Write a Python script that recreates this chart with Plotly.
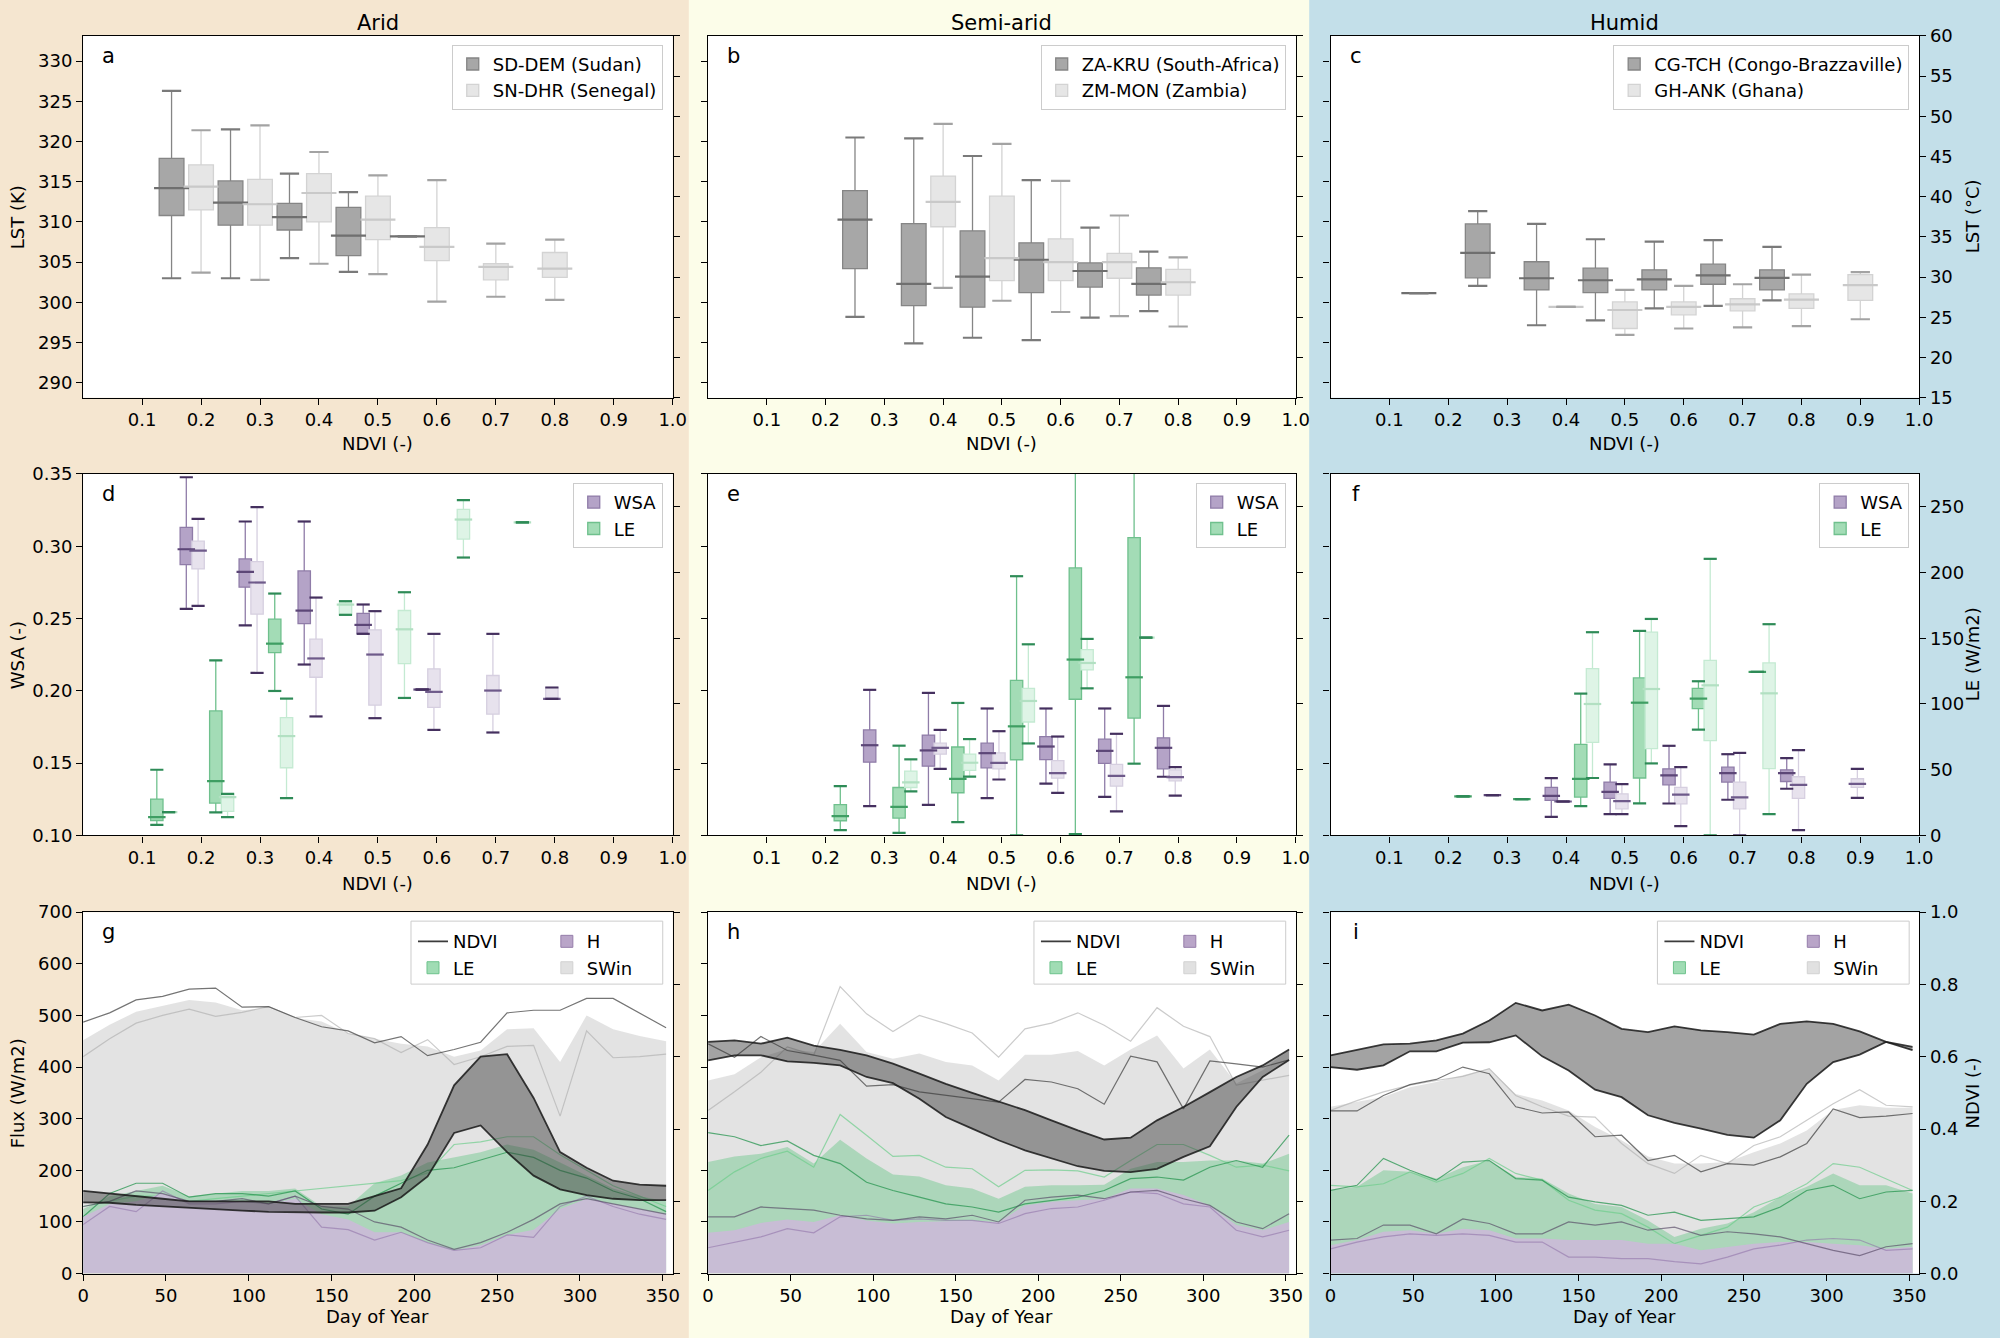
import plotly.graph_objects as go

FONT = "DejaVu Sans"
W, H = 2000, 1338

# ------------------------------------------------------------------ data
# Row 1 : LST boxes (lo, q1, median, q3, hi)
A_X_DARK = [0.15, 0.25, 0.35, 0.45, 0.55]
A_DARK = [(303.0, 310.8, 314.2, 317.9, 326.3), (303.0, 309.6, 312.4, 315.1, 321.5),
          (305.5, 309.0, 310.6, 312.3, 316.0), (303.8, 305.8, 308.3, 311.8, 313.7),
          (308.2, 308.2, 308.2, 308.2, 308.2)]
A_X_LIGHT = [0.2, 0.3, 0.4, 0.5, 0.6, 0.7, 0.8]
A_LIGHT = [(303.7, 311.5, 314.4, 317.1, 321.4), (302.8, 309.6, 312.2, 315.3, 322.0),
           (304.8, 310.0, 313.6, 316.0, 318.7), (303.5, 307.8, 310.3, 313.2, 315.8),
           (300.1, 305.2, 306.9, 309.3, 315.2), (300.7, 302.8, 304.4, 304.8, 307.3),
           (300.3, 303.1, 304.2, 306.2, 307.8)]

B_X_DARK = [0.25, 0.35, 0.45, 0.55, 0.65, 0.75]
B_DARK = [(298.2, 304.2, 310.3, 313.9, 320.5), (294.9, 299.6, 302.3, 309.8, 320.4),
          (295.6, 299.4, 303.2, 308.9, 318.2), (295.3, 301.2, 305.3, 307.4, 315.2),
          (298.1, 301.9, 303.9, 304.9, 309.3), (298.9, 300.9, 302.3, 304.3, 306.3)]
B_X_LIGHT = [0.4, 0.5, 0.6, 0.7, 0.8]
B_LIGHT = [(301.8, 309.4, 312.5, 315.7, 322.2), (300.2, 302.7, 305.5, 313.2, 319.7),
           (298.8, 302.7, 305.0, 307.9, 315.1), (298.3, 303.0, 305.0, 306.1, 310.8),
           (297.0, 300.9, 302.5, 304.1, 305.6)]

# panel c read in degC (converted to K when drawn)
C_X_DARK = [0.15, 0.25, 0.35, 0.45, 0.55, 0.65, 0.75]
C_DARK = [(28.0, 28.0, 28.0, 28.0, 28.0), (28.9, 29.9, 33.0, 36.6, 38.2),
          (24.0, 28.4, 29.85, 31.9, 36.6), (24.6, 28.05, 29.6, 31.1, 34.7),
          (26.1, 28.4, 29.7, 30.9, 34.4), (26.4, 29.1, 30.2, 31.6, 34.6),
          (27.1, 28.4, 29.9, 30.9, 33.75)]
C_X_LIGHT = [0.4, 0.5, 0.6, 0.7, 0.8, 0.9]
C_LIGHT = [(26.3, 26.3, 26.3, 26.3, 26.3), (22.8, 23.6, 25.9, 26.9, 28.4),
           (23.6, 25.3, 26.3, 26.9, 28.9), (23.75, 25.8, 26.6, 27.3, 29.1),
           (23.9, 26.1, 27.2, 27.9, 30.3), (24.75, 27.1, 29.0, 30.3, 30.6)]

# Row 2 : WSA (left axis) and LE (right axis) boxes
D_X_WSA_DARK = [0.175, 0.275, 0.375, 0.475, 0.575]
D_WSA_DARK = [(0.2567, 0.2873, 0.2979, 0.3131, 0.3477), (0.2452, 0.2717, 0.2823, 0.2912, 0.3171),
              (0.2182, 0.2465, 0.2555, 0.2829, 0.3171), (0.2394, 0.2399, 0.2456, 0.2535, 0.2597),
              (0.2009, 0.2009, 0.2009, 0.2009, 0.2009)]
D_X_WSA_LIGHT = [0.195, 0.295, 0.395, 0.495, 0.595, 0.695, 0.795]
D_WSA_LIGHT = [(0.2588, 0.2843, 0.2970, 0.3035, 0.3189), (0.2124, 0.2530, 0.2749, 0.2894, 0.3270),
               (0.1823, 0.2094, 0.2224, 0.2357, 0.2645), (0.1811, 0.1901, 0.2251, 0.2422, 0.2551),
               (0.1730, 0.1885, 0.1993, 0.2152, 0.2394), (0.1712, 0.1839, 0.2002, 0.2106, 0.2394),
               (0.1945, 0.1945, 0.1945, 0.2023, 0.2023)]
D_X_LE_DARK = [0.125, 0.225, 0.325]
D_LE_DARK = [(8.1, 11.4, 14.0, 27.7, 50.0), (17.5, 24.6, 41.4, 94.7, 133.2),
             (109.9, 139.1, 145.9, 164.5, 184.0)]
D_X_LE_LIGHT = [0.145, 0.245, 0.345, 0.445, 0.545, 0.645, 0.745]
D_LE_LIGHT = [(17.8, 17.8, 17.8, 17.8, 17.8), (14.0, 18.3, 29.2, 31.7, 31.7),
              (28.4, 51.5, 75.6, 89.6, 104.1), (167.8, 168.3, 175.6, 176.9, 178.2),
              (104.6, 130.7, 156.8, 171.1, 185.0), (211.4, 225.4, 240.3, 248.0, 255.1),
              (238.1, 238.1, 238.1, 238.1, 238.1)]

E_X_WSA_DARK = [0.275, 0.375, 0.475, 0.575, 0.675, 0.775]
E_WSA_DARK = [(0.1203, 0.1507, 0.1624, 0.1730, 0.2007), (0.1212, 0.1479, 0.1588, 0.1694, 0.1986),
              (0.1258, 0.1468, 0.1569, 0.1638, 0.1878), (0.1359, 0.1525, 0.1615, 0.1684, 0.1878),
              (0.1267, 0.1498, 0.1585, 0.1666, 0.1878), (0.1406, 0.1461, 0.1606, 0.1675, 0.1896)]
E_X_WSA_LIGHT = [0.395, 0.495, 0.595, 0.695, 0.795]
E_WSA_LIGHT = [(0.1461, 0.1562, 0.1606, 0.1638, 0.1730), (0.1387, 0.1461, 0.1502, 0.1571, 0.1721),
               (0.1295, 0.1396, 0.1431, 0.1518, 0.1684), (0.1166, 0.1341, 0.1412, 0.1491, 0.1703),
               (0.1276, 0.1378, 0.1403, 0.1454, 0.1472)]
E_X_LE_DARK = [0.225, 0.325, 0.425, 0.525, 0.625, 0.725]
E_LE_DARK = [(4.1, 11.2, 14.7, 23.4, 37.6), (2.0, 13.2, 21.8, 36.5, 68.3),
             (10.2, 32.5, 43.1, 67.3, 100.8), (0.0, 57.6, 83.0, 118.0, 197.2),
             (1.0, 103.6, 133.8, 203.5, 320.0), (54.6, 89.3, 120.3, 226.6, 330.0)]
E_X_LE_LIGHT = [0.345, 0.445, 0.545, 0.645, 0.745]
E_LE_LIGHT = [(33.5, 36.5, 40.4, 49.0, 57.9), (44.7, 49.5, 55.3, 61.9, 73.3),
              (70.0, 86.3, 102.3, 111.9, 145.4), (111.9, 125.9, 131.2, 141.4, 149.5),
              (150.5, 150.5, 150.5, 150.5, 150.5)]

F_X_WSA_DARK = [0.275, 0.375, 0.475, 0.575, 0.675, 0.775]
F_WSA_DARK = [(0.1279, 0.1279, 0.1279, 0.1279, 0.1279), (0.1129, 0.1242, 0.1274, 0.1332, 0.1396),
              (0.1147, 0.1256, 0.1302, 0.1369, 0.1491), (0.1221, 0.1350, 0.1415, 0.1461, 0.1620),
              (0.1247, 0.1369, 0.1431, 0.1472, 0.1562), (0.1323, 0.1373, 0.1431, 0.1454, 0.1535)]
F_X_WSA_LIGHT = [0.395, 0.495, 0.595, 0.695, 0.795, 0.895]
F_WSA_LIGHT = [(0.1235, 0.1235, 0.1235, 0.1235, 0.1235), (0.1147, 0.1184, 0.1237, 0.1288, 0.1355),
               (0.1065, 0.1219, 0.1283, 0.1332, 0.1472), (0.1000, 0.1184, 0.1263, 0.1369, 0.1571),
               (0.1037, 0.1256, 0.1350, 0.1406, 0.1590), (0.1260, 0.1332, 0.1357, 0.1392, 0.1461)]
F_X_LE_DARK = [0.225, 0.325, 0.425, 0.525, 0.625, 0.725]
F_LE_DARK = [(29.7, 29.7, 29.7, 29.7, 29.7), (27.7, 27.7, 27.7, 27.7, 27.7),
             (22.3, 29.2, 43.1, 69.3, 107.9), (24.4, 43.7, 101.0, 119.8, 155.6),
             (80.5, 96.4, 104.1, 111.9, 117.3), (124.4, 124.4, 124.4, 124.4, 124.4)]
F_X_LE_LIGHT = [0.445, 0.545, 0.645, 0.745]
F_LE_LIGHT = [(43.7, 70.8, 100.0, 126.9, 154.6), (54.8, 66.0, 111.4, 154.6, 164.7),
              (0.0, 72.1, 114.2, 133.2, 210.4), (16.2, 50.8, 108.1, 131.2, 160.7)]

# Row 3 : seasonal cycles (16-day composites)
DOY = [0, 16, 32, 48, 64, 80, 96, 112, 128, 144, 160, 176, 192, 208, 224, 240, 256, 272, 288, 304, 320, 336, 352]

G_SW_FILL = [452, 482, 507, 518, 530, 525, 510, 515, 495, 488, 465, 455, 445, 440, 420, 432, 473, 475, 410, 500, 473, 460, 450]
G_SW_A = [487, 505, 530, 537, 551, 553, 516, 517, 496, 478, 470, 447, 459, 422, 434, 448, 505, 510, 510, 533, 533, 505, 476]
G_SW_B = [420, 455, 485, 500, 512, 498, 506, 517, 496, 500, 465, 455, 428, 453, 405, 420, 440, 442, 305, 470, 418, 420, 425]
G_LE_FILL = [125, 150, 160, 170, 150, 155, 160, 160, 165, 130, 130, 175, 190, 215, 225, 235, 250, 240, 215, 190, 165, 150, 140]
G_LE_A = [110, 155, 175, 175, 148, 155, 155, 150, 160, 125, 115, 150, 175, 200, 205, 220, 235, 225, 200, 185, 160, 145, 120]
G_LE_B = [130, 140, 150, 150, 140, 145, 150, 155, 160, 165, 170, 175, 180, 195, 250, 255, 265, 265, 230, 200, 170, 150, 130]
G_H_FILL = [110, 135, 140, 155, 140, 140, 140, 135, 145, 115, 105, 80, 80, 60, 45, 55, 75, 85, 125, 145, 135, 125, 115]
G_H_A = [130, 140, 160, 155, 140, 140, 145, 135, 150, 130, 125, 100, 90, 65, 47, 60, 80, 105, 135, 145, 135, 125, 115]
G_H_B = [95, 130, 120, 160, 135, 135, 140, 135, 150, 90, 85, 65, 80, 60, 45, 50, 75, 70, 130, 150, 130, 115, 105]
G_ND_A = [0.229, 0.221, 0.214, 0.207, 0.200, 0.200, 0.200, 0.200, 0.193, 0.193, 0.193, 0.214, 0.236, 0.357, 0.521, 0.600, 0.607, 0.486, 0.336, 0.293, 0.257, 0.246, 0.243]
G_ND_B = [0.197, 0.196, 0.190, 0.186, 0.180, 0.176, 0.174, 0.171, 0.169, 0.169, 0.169, 0.174, 0.211, 0.269, 0.389, 0.410, 0.336, 0.271, 0.233, 0.217, 0.207, 0.203, 0.203]

H_SW_FILL = [374, 386, 419, 435, 429, 484, 429, 416, 426, 410, 403, 374, 424, 424, 431, 403, 434, 461, 397, 434, 368, 394, 435]
H_SW_A = [445, 419, 459, 432, 423, 413, 363, 366, 352, 345, 338, 332, 376, 371, 358, 328, 421, 410, 319, 412, 406, 400, 414]
H_SW_B = [316, 352, 390, 439, 423, 556, 503, 469, 500, 484, 466, 419, 474, 485, 505, 481, 450, 515, 479, 459, 365, 374, 384]
H_LE_FILL = [216, 227, 232, 245, 213, 259, 223, 192, 188, 171, 165, 145, 168, 171, 171, 172, 203, 216, 216, 219, 219, 213, 232]
H_LE_A = [273, 265, 248, 257, 229, 213, 177, 161, 148, 135, 129, 119, 135, 142, 148, 161, 184, 187, 181, 206, 219, 206, 268]
H_LE_B = [161, 197, 223, 237, 206, 308, 268, 227, 229, 206, 203, 168, 200, 201, 199, 187, 219, 250, 250, 229, 206, 210, 199]
H_H_FILL = [79, 84, 98, 105, 100, 113, 103, 97, 100, 101, 103, 100, 132, 139, 142, 145, 165, 165, 152, 132, 94, 84, 100]
H_H_A = [110, 110, 129, 126, 123, 113, 106, 103, 110, 106, 113, 100, 142, 148, 152, 145, 158, 161, 145, 132, 100, 87, 116]
H_H_B = [50, 61, 71, 87, 79, 110, 113, 103, 106, 103, 103, 97, 116, 126, 129, 142, 158, 155, 135, 129, 84, 71, 84]
H_ND_A = [0.641, 0.645, 0.636, 0.653, 0.631, 0.619, 0.604, 0.581, 0.553, 0.525, 0.500, 0.475, 0.452, 0.424, 0.396, 0.371, 0.376, 0.424, 0.461, 0.502, 0.544, 0.576, 0.620]
H_ND_B = [0.590, 0.604, 0.604, 0.587, 0.583, 0.576, 0.544, 0.527, 0.484, 0.433, 0.401, 0.369, 0.341, 0.318, 0.297, 0.284, 0.281, 0.290, 0.323, 0.352, 0.461, 0.544, 0.591]

I_SW_FILL = [323, 332, 342, 361, 371, 384, 397, 348, 335, 316, 284, 258, 227, 213, 213, 216, 235, 252, 277, 317, 326, 321, 321]
I_SW_A = [315, 315, 345, 366, 376, 400, 387, 323, 311, 313, 265, 268, 219, 229, 197, 213, 210, 226, 252, 319, 302, 305, 310]
I_SW_B = [316, 335, 352, 365, 374, 382, 397, 345, 323, 305, 303, 252, 213, 194, 229, 213, 248, 265, 297, 329, 356, 326, 323]
I_LE_FILL = [161, 168, 200, 197, 184, 206, 219, 187, 184, 155, 135, 129, 103, 71, 87, 97, 119, 148, 168, 194, 171, 171, 155]
I_LE_A = [161, 171, 223, 200, 181, 216, 219, 184, 181, 148, 139, 132, 113, 119, 103, 106, 110, 129, 161, 171, 145, 158, 161]
I_LE_B = [171, 168, 174, 197, 177, 194, 223, 194, 181, 142, 123, 116, 90, 58, 74, 90, 129, 148, 174, 213, 206, 184, 161]
I_H_FILL = [55, 65, 81, 84, 77, 87, 84, 68, 68, 65, 65, 65, 58, 58, 45, 52, 58, 61, 61, 58, 55, 48, 52]
I_H_A = [65, 68, 94, 94, 77, 106, 97, 77, 77, 100, 94, 100, 84, 90, 74, 81, 77, 71, 58, 45, 35, 52, 58]
I_H_B = [48, 61, 71, 77, 74, 77, 74, 61, 61, 32, 32, 29, 29, 23, 19, 32, 48, 55, 65, 68, 65, 45, 48]
I_ND_A = [0.604, 0.618, 0.634, 0.636, 0.645, 0.664, 0.700, 0.749, 0.728, 0.744, 0.714, 0.677, 0.668, 0.684, 0.673, 0.668, 0.661, 0.691, 0.698, 0.691, 0.670, 0.641, 0.627]
I_ND_B = [0.571, 0.564, 0.576, 0.615, 0.615, 0.639, 0.640, 0.659, 0.601, 0.562, 0.509, 0.488, 0.438, 0.417, 0.401, 0.384, 0.376, 0.424, 0.525, 0.585, 0.606, 0.641, 0.618]

COLUMN_TITLES = ["Arid", "Semi-arid", "Humid"]
PANEL_LETTERS = ["a", "b", "c", "d", "e", "f", "g", "h", "i"]
SITES = [("SD-DEM (Sudan)", "SN-DHR (Senegal)"),
         ("ZA-KRU (South-Africa)", "ZM-MON (Zambia)"),
         ("CG-TCH (Congo-Brazzaville)", "GH-ANK (Ghana)")]

# ------------------------------------------------------------------ layout geometry
# target positions (pixels of the 2000x1338 picture)
COLS_PX = [(81.7, 671.9), (707.3, 1295.5), (1330.4, 1919.6)]
ROWS_PX = [(35.0, 397.0), (473.3, 835.0), (911.7, 1273.3)]
BG_PX = [688, 1309]
BG_COL = ["#f5e6d0", "#fcfde9", "#c3dfe9"]
FS = 18
# the photographed page shows a slightly larger area than the page; compensate
SX, OX, SY, OY = 0.991, 4.5, 0.9847, 10.2


def page_x(t):
    return (t - OX) / SX


def page_y(t):
    return (t - OY) / SY


def PX(t):
    return page_x(t) / W


def PY(t):
    return 1 - page_y(t) / H


def PYpage(p):
    return 1 - p / H


# colours
GD_FILL, GD_EDGE, GD_MED, GD_CAP = "#a7a7a7", "#858585", "#6f6f6f", "#7a7a7a"
GL_FILL, GL_EDGE, GL_MED, GL_CAP = "#e6e6e6", "#d3d3d3", "#c9c9c9", "#a3a3a3"
PD_FILL, PD_EDGE, PD_MED, PD_CAP = "#b4a3c7", "#8f7ca8", "#5c4677", "#45305f"
PL_FILL, PL_EDGE, PL_MED, PL_CAP = "#e7e2ed", "#d6cfe0", "#6e5a8a", "#45305f"
ND_FILL, ND_EDGE, ND_MED, ND_CAP = "#a3dcb6", "#6fc08d", "#3f9e63", "#2e8b57"
NL_FILL, NL_EDGE, NL_MED, NL_CAP = "#def4e6", "#c4ead2", "#b2e0c2", "#2e8b57"

fig = go.Figure()


def xn(n):
    return "x" if n == 1 else f"x{n}"


def yn(n):
    return "y" if n == 1 else f"y{n}"


def lg(n):
    return "legend" if n == 1 else f"legend{n}"


AX_PX_W = page_x(COLS_PX[0][1]) - page_x(COLS_PX[0][0])


def add_boxes(xs, stats, p_x, p_y, width, fill, edge, med, cap, cap_frac,
              name="", legend=None, show=False):
    lo, q1, md, q3, hi = [list(v) for v in zip(*stats)]
    kw = {}
    if legend:
        kw["legend"] = legend
    fig.add_trace(go.Box(x=list(xs), lowerfence=lo, q1=q1, median=md, q3=q3, upperfence=hi,
                         width=width, fillcolor=fill, line=dict(color=edge, width=1.3),
                         whiskerwidth=0, boxpoints=False, name=name, showlegend=show,
                         xaxis=xn(p_x), yaxis=yn(p_y), hoverinfo="skip", **kw))
    wpx = width * AX_PX_W
    fig.add_trace(go.Scatter(x=list(xs), y=md, mode="markers", showlegend=False, hoverinfo="skip",
                             marker=dict(symbol="line-ew", size=wpx, line=dict(width=2.2, color=med)),
                             xaxis=xn(p_x), yaxis=yn(p_y)))
    fig.add_trace(go.Scatter(x=list(xs) + list(xs), y=lo + hi, mode="markers", showlegend=False,
                             hoverinfo="skip",
                             marker=dict(symbol="line-ew", size=wpx * cap_frac,
                                         line=dict(width=2.2, color=cap)),
                             xaxis=xn(p_x), yaxis=yn(p_y)))


# ---- row 1 (all in Kelvin on the left axis; right axis shows degC)
K0 = 273.15
C_DARK_K = [tuple(v + K0 for v in s) for s in C_DARK]
C_LIGHT_K = [tuple(v + K0 for v in s) for s in C_LIGHT]
for c, (xd, dd, xl, dl) in enumerate([(A_X_DARK, A_DARK, A_X_LIGHT, A_LIGHT),
                                      (B_X_DARK, B_DARK, B_X_LIGHT, B_LIGHT),
                                      (C_X_DARK, C_DARK_K, C_X_LIGHT, C_LIGHT_K)]):
    p = c + 1
    add_boxes(xd, dd, p, p, 0.042, GD_FILL, GD_EDGE, GD_MED, GD_CAP, 0.55,
              name=SITES[c][0], legend=lg(p), show=True)
    add_boxes(xl, dl, p, p, 0.042, GL_FILL, GL_EDGE, GL_MED, GL_CAP, 0.55,
              name=SITES[c][1], legend=lg(p), show=True)
    # empty trace so that the degC twin axis is drawn
    fig.add_trace(go.Scatter(x=[None], y=[None], mode="lines", showlegend=False,
                             hoverinfo="skip", xaxis=xn(p), yaxis=yn(p + 9)))

# ---- row 2
ROW2 = [(D_X_WSA_DARK, D_WSA_DARK, D_X_WSA_LIGHT, D_WSA_LIGHT, D_X_LE_DARK, D_LE_DARK, D_X_LE_LIGHT, D_LE_LIGHT),
        (E_X_WSA_DARK, E_WSA_DARK, E_X_WSA_LIGHT, E_WSA_LIGHT, E_X_LE_DARK, E_LE_DARK, E_X_LE_LIGHT, E_LE_LIGHT),
        (F_X_WSA_DARK, F_WSA_DARK, F_X_WSA_LIGHT, F_WSA_LIGHT, F_X_LE_DARK, F_LE_DARK, F_X_LE_LIGHT, F_LE_LIGHT)]
for c, (xwd, wd, xwl, wl, xed, ed, xel, el) in enumerate(ROW2):
    p = 3 + c + 1
    add_boxes(xwd, wd, p, p, 0.021, PD_FILL, PD_EDGE, PD_MED, PD_CAP, 0.75,
              name="WSA", legend=lg(p), show=True)
    add_boxes(xwl, wl, p, p, 0.021, PL_FILL, PL_EDGE, PL_MED, PL_CAP, 0.75)
    add_boxes(xed, ed, p, p + 9, 0.021, ND_FILL, ND_EDGE, ND_MED, ND_CAP, 0.75,
              name="LE", legend=lg(p), show=True)
    add_boxes(xel, el, p, p + 9, 0.021, NL_FILL, NL_EDGE, NL_MED, NL_CAP, 0.75)

# ---- row 3
ROW3 = [(G_SW_FILL, G_SW_A, G_SW_B, G_LE_FILL, G_LE_A, G_LE_B, G_H_FILL, G_H_A, G_H_B, G_ND_A, G_ND_B),
        (H_SW_FILL, H_SW_A, H_SW_B, H_LE_FILL, H_LE_A, H_LE_B, H_H_FILL, H_H_A, H_H_B, H_ND_A, H_ND_B),
        (I_SW_FILL, I_SW_A, I_SW_B, I_LE_FILL, I_LE_A, I_LE_B, I_H_FILL, I_H_A, I_H_B, I_ND_A, I_ND_B)]
SW_FILLC, SW_LA, SW_LB = "rgba(200,200,200,0.5)", "rgba(70,70,70,0.75)", "rgba(175,175,175,0.65)"
LE_FILLC, LE_LA, LE_LB = "rgba(90,195,125,0.40)", "rgba(40,150,80,0.75)", "rgba(110,205,140,0.70)"
H_FILLC, H_LA, H_LB = "rgba(203,186,216,0.9)", "rgba(85,70,100,0.65)", "rgba(140,110,165,0.55)"
NDV_FILLC, NDV_L = "rgba(60,60,60,0.47)", "rgba(25,25,25,0.85)"

for c, (swf, swa, swb, lef, lea, leb, hf, ha, hb, nda, ndb) in enumerate(ROW3):
    p = 6 + c + 1
    s = p + 9
    legL, legR = lg(p), lg(p + 3)
    X, Y = xn(p), yn(p)

    def line(y, col, w=1.2):
        fig.add_trace(go.Scatter(x=DOY, y=y, mode="lines", line=dict(color=col, width=w),
                                 showlegend=False, hoverinfo="skip", xaxis=X, yaxis=Y))

    def area(y, col):
        fig.add_trace(go.Scatter(x=DOY, y=y, mode="lines", fill="tozeroy", fillcolor=col,
                                 line=dict(width=0), showlegend=False, hoverinfo="skip",
                                 xaxis=X, yaxis=Y))

    area(swf, SW_FILLC)
    line(swb, SW_LB)
    line(swa, SW_LA)
    area(lef, LE_FILLC)
    line(leb, LE_LB)
    line(lea, LE_LA)
    area(hf, H_FILLC)
    line(hb, H_LB)
    line(ha, H_LA)
    fig.add_trace(go.Scatter(x=DOY, y=nda, mode="lines", line=dict(color=NDV_L, width=1.8),
                             name="NDVI", legend=legL, showlegend=True, hoverinfo="skip",
                             xaxis=X, yaxis=yn(s)))
    fig.add_trace(go.Scatter(x=DOY, y=ndb, mode="lines", line=dict(color=NDV_L, width=1.8),
                             fill="tonexty", fillcolor=NDV_FILLC, showlegend=False,
                             hoverinfo="skip", xaxis=X, yaxis=yn(s)))
    # legend patches
    for nm, fc, ec, lgn in [("LE", "rgba(160,220,180,1)", "rgba(110,195,140,1)", legL),
                            ("H", "rgba(185,165,200,1)", "rgba(150,125,170,1)", legR),
                            ("SWin", "rgba(225,225,225,1)", "rgba(210,210,210,1)", legR)]:
        fig.add_trace(go.Bar(x=[None], y=[None], name=nm, legend=lgn, showlegend=True,
                             marker=dict(color=fc, line=dict(color=ec, width=1)),
                             xaxis=X, yaxis=Y, hoverinfo="skip"))

# ------------------------------------------------------------------ axes
AX = dict(showline=True, linecolor="black", linewidth=1.3, ticks="outside", ticklen=6,
          tickwidth=1.2, tickcolor="black", showgrid=False, zeroline=False,
          tickfont=dict(family=FONT, size=FS, color="black"), fixedrange=True)

ndvi_ticks = [round(0.1 * i, 1) for i in range(1, 11)]
ROW_CFG = [
    dict(xr=[0, 1.0], xt=ndvi_ticks, xtt=[f"{v:.1f}" for v in ndvi_ticks],
         yr=[288.15, 333.15], yt=list(range(290, 331, 5)), ytt=[str(v) for v in range(290, 331, 5)],
         y2r=[15, 60], y2t=list(range(15, 61, 5)), y2tt=[str(v) for v in range(15, 61, 5)]),
    dict(xr=[0, 1.0], xt=ndvi_ticks, xtt=[f"{v:.1f}" for v in ndvi_ticks],
         yr=[0.10, 0.35], yt=[0.10, 0.15, 0.20, 0.25, 0.30, 0.35],
         ytt=["0.10", "0.15", "0.20", "0.25", "0.30", "0.35"],
         y2r=[0, 275], y2t=[0, 50, 100, 150, 200, 250], y2tt=["0", "50", "100", "150", "200", "250"]),
    dict(xr=[0, 356], xt=list(range(0, 351, 50)), xtt=[str(v) for v in range(0, 351, 50)],
         yr=[0, 700], yt=list(range(0, 701, 100)), ytt=[str(v) for v in range(0, 701, 100)],
         y2r=[0, 1], y2t=[0, 0.2, 0.4, 0.6, 0.8, 1.0], y2tt=["0.0", "0.2", "0.4", "0.6", "0.8", "1.0"]),
]

layout = dict(width=W, height=H, margin=dict(l=0, r=0, t=0, b=0), paper_bgcolor="rgba(0,0,0,0)",
              plot_bgcolor="rgba(0,0,0,0)", boxmode="overlay", barmode="overlay",
              font=dict(family=FONT, size=FS, color="black"), showlegend=True)

shapes, annotations = [], []
edges = [-0.05, PX(BG_PX[0]), PX(BG_PX[1]), 1.05]
for i, col in enumerate(BG_COL):
    shapes.append(dict(type="rect", xref="paper", yref="paper", x0=edges[i], x1=edges[i + 1],
                       y0=-0.05, y1=1.05, fillcolor=col, line=dict(width=0), layer="below"))

for r in range(3):
    cfg = ROW_CFG[r]
    for c in range(3):
        p = r * 3 + c + 1
        s = p + 9
        xl, xr = COLS_PX[c]
        yt, yb = ROWS_PX[r]
        xd = [PX(xl), PX(xr)]
        yd = [PY(yb), PY(yt)]
        shapes.append(dict(type="rect", xref="paper", yref="paper", x0=xd[0], x1=xd[1],
                           y0=yd[0], y1=yd[1], fillcolor="white", line=dict(width=0), layer="below"))
        layout["xaxis" if p == 1 else f"xaxis{p}"] = dict(
            AX, domain=xd, anchor=yn(p), range=cfg["xr"], tickvals=cfg["xt"], ticktext=cfg["xtt"],
            mirror=True)
        layout["yaxis" if p == 1 else f"yaxis{p}"] = dict(
            AX, domain=yd, anchor=xn(p), range=cfg["yr"], tickvals=cfg["yt"], ticktext=cfg["ytt"],
            showticklabels=(c == 0), mirror=True)
        layout[f"yaxis{s}"] = dict(
            AX, domain=yd, overlaying=yn(p), anchor=xn(p), side="right", range=cfg["y2r"],
            tickvals=cfg["y2t"], ticktext=cfg["y2tt"], showticklabels=(c == 2))

        # panel letter
        annotations.append(dict(text=PANEL_LETTERS[p - 1], xref="paper", yref="paper",
                                x=PX(xl + 25), y=PY(yt + 20), showarrow=False,
                                xanchor="center", yanchor="middle",
                                font=dict(family=FONT, size=21, color="black")))

        # legends
        if r < 2:
            layout[lg(p)] = dict(x=PX(xr - 10), y=PY(yt + 9), xanchor="right", yanchor="top",
                                 bgcolor="rgba(255,255,255,0.85)", bordercolor="#cccccc",
                                 borderwidth=1, font=dict(family=FONT, size=FS, color="black"),
                                 itemwidth=30, traceorder="normal")
        else:
            left, right, top, bot = xr - 262, xr - 10, yt + 9, yt + 72
            shapes.append(dict(type="rect", xref="paper", yref="paper", x0=PX(left), x1=PX(right),
                               y0=PY(bot), y1=PY(top), fillcolor="rgba(255,255,255,0.85)",
                               line=dict(color="#cccccc", width=1), layer="above"))
            for k, lx in [(p, left + 2), (p + 3, left + 136)]:
                layout[lg(k)] = dict(x=PX(lx), y=PY(top + 2), xanchor="left", yanchor="top",
                                     bgcolor="rgba(0,0,0,0)", borderwidth=0,
                                     font=dict(family=FONT, size=FS, color="black"),
                                     itemwidth=30, traceorder="normal")

# column titles (kept inside the page)
for c in range(3):
    xl, xr = COLS_PX[c]
    annotations.append(dict(text=COLUMN_TITLES[c], xref="paper", yref="paper", x=PX((xl + xr) / 2),
                            y=PYpage(max(page_y(15), 12)), showarrow=False, xanchor="center",
                            yanchor="middle", font=dict(family=FONT, size=21, color="black")))

# axis titles
XT = ["NDVI (-)", "NDVI (-)", "Day of Year"]
XT_Y = [443, 883, 1321]
YL = ["LST (K)", "WSA (-)", "Flux (W/m2)"]
YR = ["LST (°C)", "LE (W/m2)", "NDVI (-)"]
for r in range(3):
    yt, yb = ROWS_PX[r]
    ymid = PY((yt + yb) / 2)
    for c in range(3):
        xl, xr = COLS_PX[c]
        annotations.append(dict(text=XT[r], xref="paper", yref="paper", x=PX((xl + xr) / 2),
                                y=PYpage(min(page_y(XT_Y[r]), 1326)), showarrow=False,
                                xanchor="center", yanchor="middle",
                                font=dict(family=FONT, size=FS, color="black")))
    annotations.append(dict(text=YL[r], xref="paper", yref="paper", x=PX(16), y=ymid, textangle=-90,
                            showarrow=False, xanchor="center", yanchor="middle",
                            font=dict(family=FONT, size=FS, color="black")))
    annotations.append(dict(text=YR[r], xref="paper", yref="paper", x=PX(1973), y=ymid, textangle=-90,
                            showarrow=False, xanchor="center", yanchor="middle",
                            font=dict(family=FONT, size=FS, color="black")))

layout["shapes"] = shapes
layout["annotations"] = annotations
fig.update_layout(**layout)

PAGE_BG = ("linear-gradient(to right,{0} 0px,{0} {3:.0f}px,{1} {3:.0f}px,{1} {4:.0f}px,{2} {4:.0f}px,{2} 100%)"
           .format(BG_COL[0], BG_COL[1], BG_COL[2], page_x(BG_PX[0]), page_x(BG_PX[1])))
fig.write_html("out.html", config={"displayModeBar": False},
               post_script=("document.body.style.margin='0';"
                            "document.documentElement.style.background='%s';" % PAGE_BG))
